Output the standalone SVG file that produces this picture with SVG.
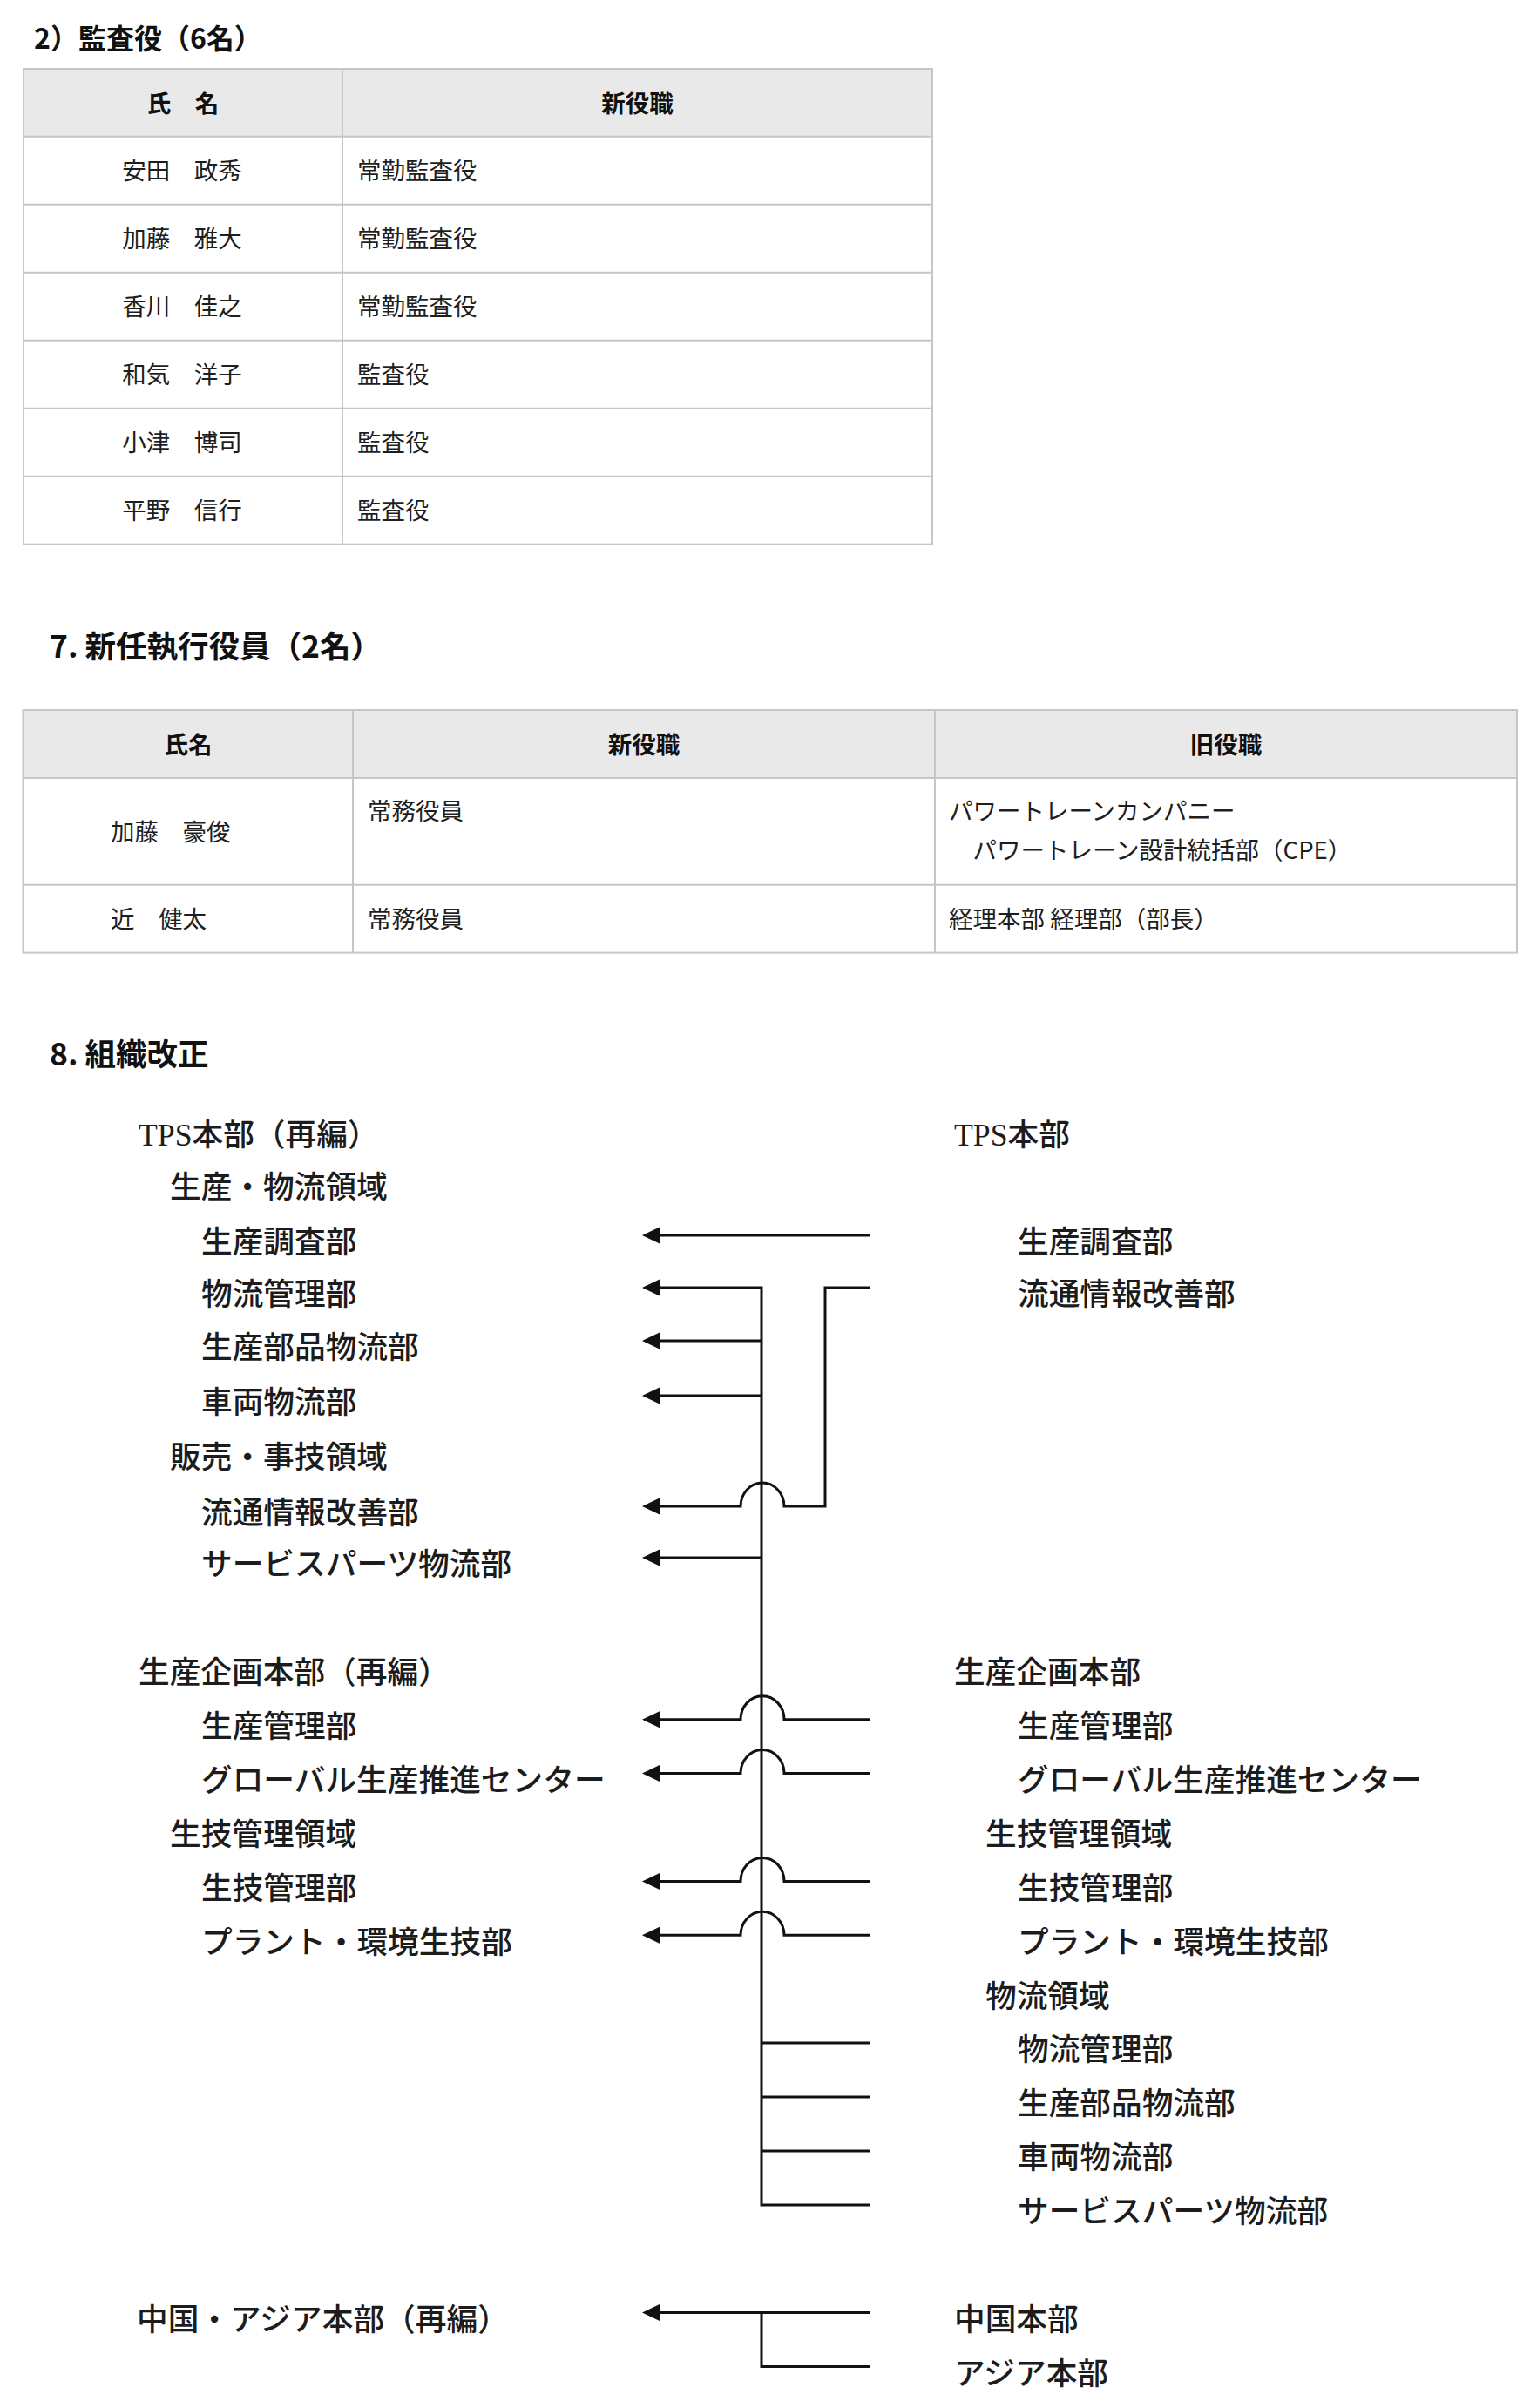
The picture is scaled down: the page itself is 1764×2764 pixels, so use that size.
<svg xmlns="http://www.w3.org/2000/svg" width="1764" height="2764" viewBox="0 0 1764 2764">
<defs>
<marker id="ah" markerUnits="userSpaceOnUse" markerWidth="22" markerHeight="22" refX="8" refY="10" orient="auto" viewBox="0 0 22 22">
<path d="M0,0 L21,10 L0,20 z" fill="#111"/>
</marker>
<style>
.t{font-family:"Noto Sans CJK JP","Noto Sans",sans-serif;font-size:27.5px;fill:#1e1e1e}
.b{font-weight:700;fill:#111}
.h{font-family:"Noto Sans CJK JP","Noto Sans",sans-serif;font-weight:700;fill:#111}
.d{font-family:"Liberation Serif","Noto Sans CJK JP",serif;font-size:35.7px;font-weight:500;fill:#1c1c1c}
.m{text-anchor:middle}
.ln{fill:none;stroke:#111;stroke-width:3}
.ar{marker-end:url(#ah)}
.grid{stroke:#c6c6c6;stroke-width:2;fill:none}
.hd{fill:#e9e9e9}
</style>
</defs>
<rect width="1764" height="2764" fill="#fff"/>

<!-- Section titles -->
<g id="title-auditors"><text class="h" x="39" y="56" font-size="32">2）監査役（6名）</text></g>
<g id="title-officers"><text class="h" x="57" y="755" font-size="35.5">7. 新任執行役員（2名）</text></g>
<g id="title-org"><text class="h" x="57" y="1223" font-size="35.5">8. 組織改正</text></g>

<!-- Table 1 -->
<g id="table-auditors">
<rect class="hd" x="27" y="79" width="1043" height="78"/>
<rect class="grid" x="27" y="79" width="1043" height="545.7"/>
<path class="grid" d="M393,79 V624.7 M27,156.7 H1070 M27,234.7 H1070 M27,312.7 H1070 M27,390.7 H1070 M27,468.7 H1070 M27,546.7 H1070"/>
<text class="t b m" x="210" y="128.5">氏　名</text>
<text class="t b m" x="731.5" y="128.5">新役職</text>
<g id="a1"><text class="t m" x="209" y="206.2">安田　政秀</text><text class="t" x="410" y="206.2">常勤監査役</text></g>
<g id="a2"><text class="t m" x="209" y="284.2">加藤　雅大</text><text class="t" x="410" y="284.2">常勤監査役</text></g>
<g id="a3"><text class="t m" x="209" y="362.2">香川　佳之</text><text class="t" x="410" y="362.2">常勤監査役</text></g>
<g id="a4"><text class="t m" x="209" y="440.2">和気　洋子</text><text class="t" x="410" y="440.2">監査役</text></g>
<g id="a5"><text class="t m" x="209" y="518.2">小津　博司</text><text class="t" x="410" y="518.2">監査役</text></g>
<g id="a6"><text class="t m" x="209" y="596.2">平野　信行</text><text class="t" x="410" y="596.2">監査役</text></g>
</g>

<!-- Table 2 -->
<g id="table-officers">
<rect class="hd" x="26.5" y="815" width="1714.5" height="78"/>
<rect class="grid" x="26.5" y="815" width="1714.5" height="278.6"/>
<path class="grid" d="M405,815 V1093.6 M1073,815 V1093.6 M26.5,893 H1741 M26.5,1015.7 H1741"/>
<text class="t b m" x="216" y="864.5">氏名</text>
<text class="t b m" x="739" y="864.5">新役職</text>
<text class="t b m" x="1407" y="864.5">旧役職</text>
<g id="o1">
<text class="t" x="127" y="964.5">加藤　豪俊</text>
<text class="t" x="422" y="940.5">常務役員</text>
<text class="t" x="1089" y="940.5">パワートレーンカンパニー</text>
<text class="t" x="1089" y="986">　パワートレーン設計統括部（CPE）</text>
</g>
<g id="o2">
<text class="t" x="127" y="1065">近　健太</text>
<text class="t" x="422" y="1065">常務役員</text>
<text class="t" x="1089" y="1065">経理本部 経理部（部長）</text>
</g>
</g>

<!-- Organisation diagram: new (left) -->
<g id="new-tps"><text class="d" x="159" y="1315">TPS本部（再編）</text></g>
<g id="new-seisan-butsuryu"><text class="d" x="195" y="1375">生産・物流領域</text></g>
<g id="new-seisanchosa"><text class="d" x="231" y="1438">生産調査部</text></g>
<g id="new-butsuryukanri"><text class="d" x="231" y="1498">物流管理部</text></g>
<g id="new-buhin"><text class="d" x="231" y="1559">生産部品物流部</text></g>
<g id="new-sharyo"><text class="d" x="231" y="1622">車両物流部</text></g>
<g id="new-hanbai"><text class="d" x="195" y="1685">販売・事技領域</text></g>
<g id="new-ryutsu"><text class="d" x="231" y="1749">流通情報改善部</text></g>
<g id="new-service"><text class="d" x="231" y="1808">サービスパーツ物流部</text></g>
<g id="new-kikaku"><text class="d" x="159" y="1932">生産企画本部（再編）</text></g>
<g id="new-seisankanri"><text class="d" x="231" y="1994">生産管理部</text></g>
<g id="new-global"><text class="d" x="231" y="2056">グローバル生産推進センター</text></g>
<g id="new-seigi-ryoiki"><text class="d" x="195" y="2118">生技管理領域</text></g>
<g id="new-seigikanri"><text class="d" x="231" y="2180">生技管理部</text></g>
<g id="new-plant"><text class="d" x="231" y="2241.6">プラント・環境生技部</text></g>
<g id="new-china-asia"><text class="d" x="157" y="2675">中国・アジア本部（再編）</text></g>

<!-- Organisation diagram: old (right) -->
<g id="old-tps"><text class="d" x="1095" y="1315">TPS本部</text></g>
<g id="old-seisanchosa"><text class="d" x="1168" y="1438">生産調査部</text></g>
<g id="old-ryutsu"><text class="d" x="1168" y="1498">流通情報改善部</text></g>
<g id="old-kikaku"><text class="d" x="1095" y="1932">生産企画本部</text></g>
<g id="old-seisankanri"><text class="d" x="1168" y="1994">生産管理部</text></g>
<g id="old-global"><text class="d" x="1168" y="2056">グローバル生産推進センター</text></g>
<g id="old-seigi-ryoiki"><text class="d" x="1131" y="2118">生技管理領域</text></g>
<g id="old-seigikanri"><text class="d" x="1168" y="2180">生技管理部</text></g>
<g id="old-plant"><text class="d" x="1168" y="2241.6">プラント・環境生技部</text></g>
<g id="old-butsuryu-ryoiki"><text class="d" x="1131" y="2303.5">物流領域</text></g>
<g id="old-butsuryukanri"><text class="d" x="1168" y="2365.4">物流管理部</text></g>
<g id="old-buhin"><text class="d" x="1168" y="2427.3">生産部品物流部</text></g>
<g id="old-sharyo"><text class="d" x="1168" y="2489.2">車両物流部</text></g>
<g id="old-service"><text class="d" x="1168" y="2551">サービスパーツ物流部</text></g>
<g id="old-china"><text class="d" x="1095" y="2675">中国本部</text></g>
<g id="old-asia"><text class="d" x="1095" y="2737">アジア本部</text></g>

<!-- Connectors -->
<g id="connectors" class="ln">
<path class="ar" d="M999,1418 H750"/>
<path class="ar" d="M999,2531 H874 V1478 H750"/>
<path class="ar" d="M874,1539 H750"/>
<path class="ar" d="M874,1602 H750"/>
<path class="ar" d="M874,1788 H750"/>
<path class="ar" d="M999,1478 H947 V1729 H900 A25,27 0 0 0 850,1729 H750"/>
<path class="ar" d="M999,1973.7 H900 A25,27 0 0 0 850,1973.7 H750"/>
<path class="ar" d="M999,2035.6 H900 A25,27 0 0 0 850,2035.6 H750"/>
<path class="ar" d="M999,2159.4 H900 A25,27 0 0 0 850,2159.4 H750"/>
<path class="ar" d="M999,2221.3 H900 A25,27 0 0 0 850,2221.3 H750"/>
<path d="M874,2345 H999 M874,2407 H999 M874,2469 H999"/>
<path class="ar" d="M999,2654.6 H750"/>
<path d="M874,2654.6 V2716.5 H999"/>
</g>
</svg>
